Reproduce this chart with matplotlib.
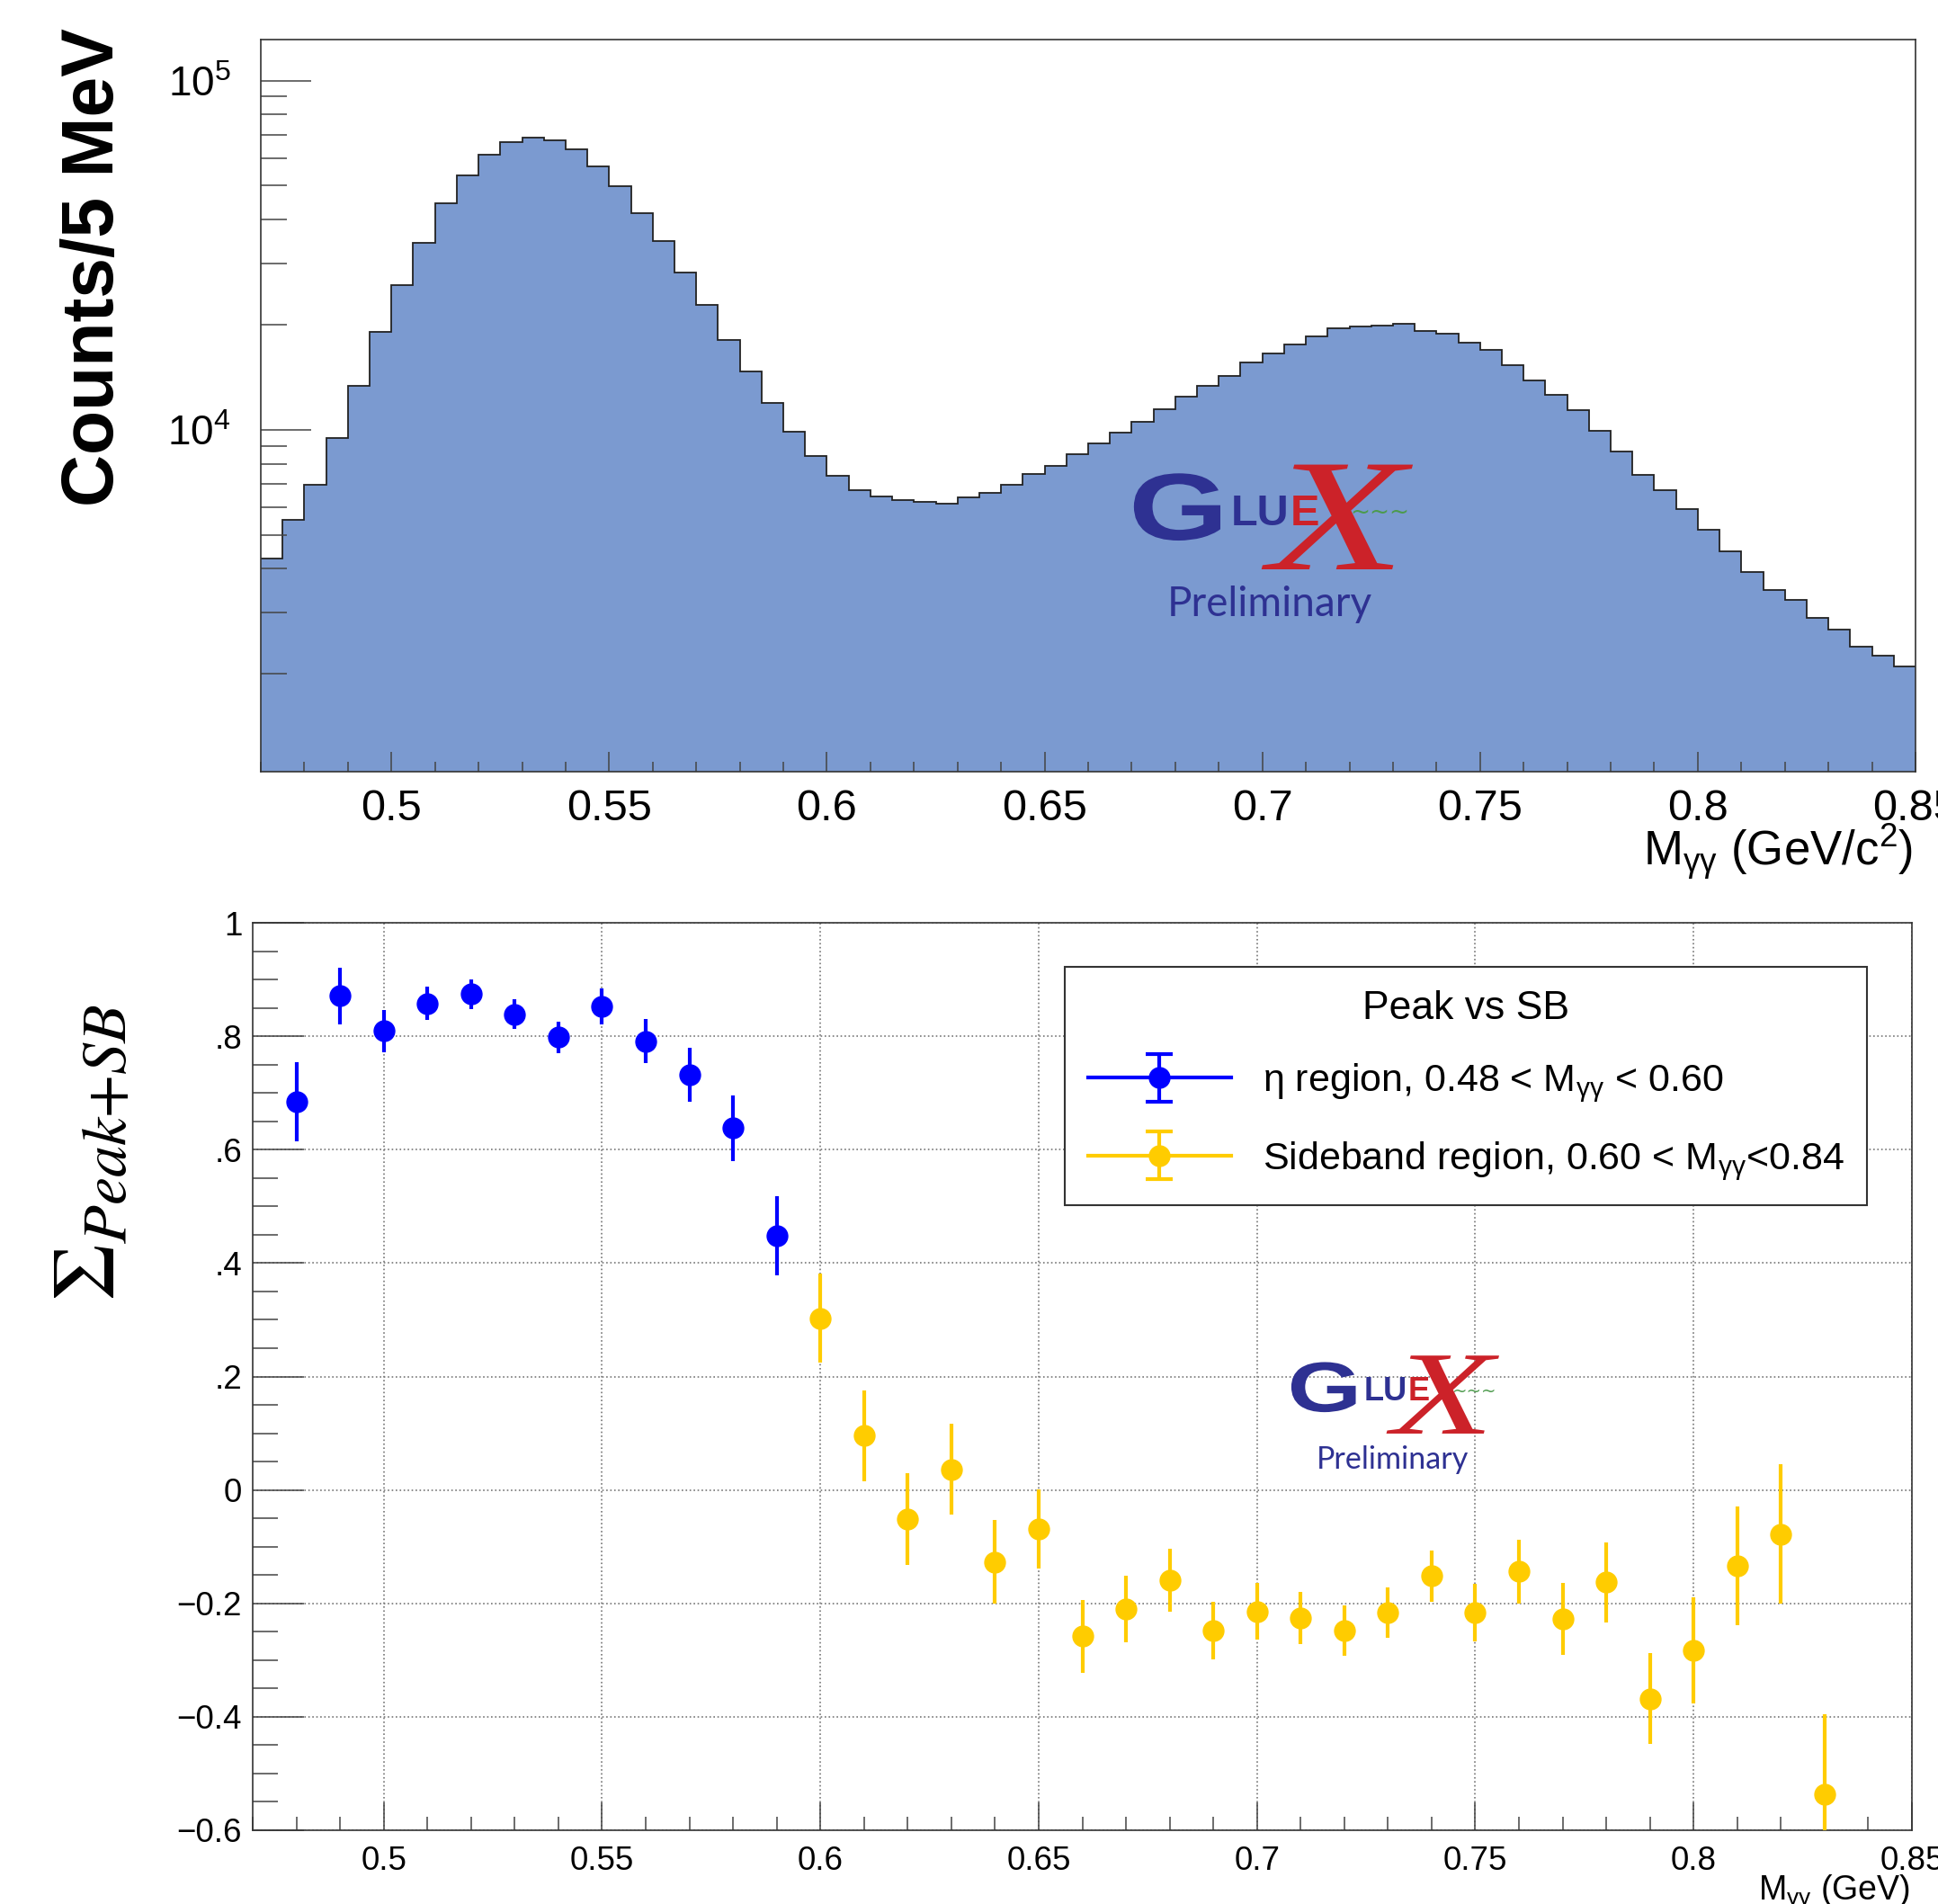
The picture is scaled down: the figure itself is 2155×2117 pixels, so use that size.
import numpy as np
import matplotlib
matplotlib.use("Agg")
import matplotlib.pyplot as plt
from matplotlib.ticker import MultipleLocator, LogLocator, NullFormatter, FuncFormatter
from matplotlib.patheffects import AbstractPathEffect
from matplotlib.transforms import Affine2D
from matplotlib.legend_handler import HandlerErrorbar
from matplotlib.container import ErrorbarContainer

# top panel: M_gg histogram, 5 MeV bins from 0.47 to 0.85
hist_lo, hist_hi = 0.47, 0.85
hist_counts = [
    4283, 5527, 6941, 9493, 13335, 19060, 25974, 34320, 44600, 53590,
    61420, 66600, 68440, 67520, 63730, 56800, 49740, 41670, 34670, 28280,
    22740, 18110, 14670, 11920, 9888, 8427, 7379, 6712, 6443, 6290,
    6226, 6163, 6390, 6587, 6971, 7463, 7895, 8517, 9150, 9795,
    10560, 11480, 12430, 13400, 14290, 15590, 16500, 17590, 18470, 19490,
    19780, 19930, 20090, 19190, 18830, 17800, 16940, 15360, 13870, 12620,
    11390, 9906, 8644, 7435, 6712, 5927, 5172, 4481, 3926, 3477,
    3251, 2891, 2680, 2393, 2261, 2104,
]

# bottom panel: beam asymmetry per 10 MeV slice
x_eta = [0.48, 0.49, 0.50, 0.51, 0.52, 0.53, 0.54, 0.55, 0.56, 0.57, 0.58, 0.59]
sigma_eta = [0.684, 0.871, 0.809, 0.858, 0.874, 0.839, 0.798, 0.853, 0.791, 0.732, 0.638, 0.448]
err_eta = [0.070, 0.050, 0.037, 0.029, 0.026, 0.026, 0.028, 0.032, 0.039, 0.047, 0.058, 0.070]

x_sb = [0.60, 0.61, 0.62, 0.63, 0.64, 0.65, 0.66, 0.67, 0.68, 0.69, 0.70, 0.71,
        0.72, 0.73, 0.74, 0.75, 0.76, 0.77, 0.78, 0.79, 0.80, 0.81, 0.82, 0.83]
sigma_sb = [0.303, 0.096, -0.051, 0.036, -0.127, -0.069, -0.258, -0.210, -0.159, -0.248, -0.214, -0.225,
            -0.248, -0.216, -0.152, -0.216, -0.144, -0.227, -0.163, -0.368, -0.283, -0.134, -0.078, -0.536]
err_sb = [0.078, 0.080, 0.081, 0.080, 0.074, 0.070, 0.064, 0.059, 0.055, 0.051, 0.050, 0.046,
          0.044, 0.044, 0.045, 0.051, 0.056, 0.063, 0.070, 0.080, 0.093, 0.105, 0.123, 0.140]

y2_ticks = [-0.6, -0.4, -0.2, 0.0, 0.2, 0.4, 0.6, 0.8, 1.0]
y2_tick_labels = ["\u22120.6", "\u22120.4", "\u22120.2", "0", ".2", ".4", ".6", ".8", "1"]

label_eta = r"η region, 0.48 < M$_{\mathregular{γγ}}$ < 0.60"
label_sb = r"Sideband region, 0.60 < M$_{\mathregular{γγ}}$<0.84"

W, H, DPI = 2155, 2117, 100

HIST_FILL = "#7B9AD0"
BLUE = "#0000FF"
YELLOW = "#FFCC00"
LOGO_BLUE = "#2E3192"
LOGO_RED = "#CC2229"
LOGO_GREEN = "#4C9A4C"
FRAME = "#333333"


class Stretch(AbstractPathEffect):
    """scale the glyph outline around the text origin"""

    def __init__(self, sx=1.0, sy=1.0):
        super().__init__()
        self.sx = sx
        self.sy = sy

    def draw_path(self, renderer, gc, tpath, affine, rgbFace=None):
        renderer.draw_path(gc, tpath, Affine2D().scale(self.sx, self.sy) + affine, rgbFace)


def fx(x):
    return x / W


def fy(y):
    return 1 - y / H


def draw_logo(fig, x0, y0, s):
    fig.text(fx(x0 - 6 * s), fy(y0 + 77 * s), "G", fontsize=76 * s, fontweight="bold",
             color=LOGO_BLUE, ha="left", va="baseline", path_effects=[Stretch(1.35, 1.0)], zorder=4)
    fig.text(fx(x0 + 150 * s), fy(y0 + 110 * s), "X", fontsize=128 * s, family="Liberation Serif",
             style="italic", color=LOGO_RED, ha="left", va="baseline",
             path_effects=[Stretch(1.40, 1.0)], zorder=3)
    fig.text(fx(x0 + 108 * s), fy(y0 + 61 * s), "LU", fontsize=35 * s, fontweight="bold",
             color=LOGO_BLUE, ha="left", va="baseline", zorder=4)
    fig.text(fx(x0 + 174 * s), fy(y0 + 61 * s), "E", fontsize=35 * s, fontweight="bold",
             color=LOGO_RED, ha="left", va="baseline", zorder=4)
    fig.text(fx(x0 + 240 * s), fy(y0 + 47 * s), "~~~", fontsize=19 * s, family="DejaVu Sans",
             color=LOGO_GREEN, ha="left", va="center", zorder=4)
    fig.text(fx(x0 + 37 * s), fy(y0 + 162 * s), "Preliminary", fontsize=33 * s, family="Lato",
             color=LOGO_BLUE, ha="left", va="baseline", zorder=4)


def style_axes(ax):
    for sp in ax.spines.values():
        sp.set_color(FRAME)
        sp.set_linewidth(1.2)
    ax.tick_params(which="both", direction="in", top=False, right=False,
                   color="#444444", width=1.1, labelcolor="black")


def main(save_path="out.png"):
    plt.rcParams["font.family"] = ["Liberation Sans", "DejaVu Sans"]
    plt.rcParams["mathtext.fontset"] = "custom"
    plt.rcParams["mathtext.rm"] = "Liberation Sans"
    plt.rcParams["mathtext.sf"] = "Liberation Sans"
    plt.rcParams["mathtext.it"] = "Liberation Sans:italic"
    plt.rcParams["mathtext.bf"] = "Liberation Sans:bold"

    fig = plt.figure(figsize=(W / DPI, H / DPI), dpi=DPI)

    # ---------------- top: invariant mass histogram ----------------
    ax1 = fig.add_axes([fx(290), fy(858), (2130 - 290) / W, (858 - 44) / H])
    edges = np.linspace(hist_lo, hist_hi, len(hist_counts) + 1)
    ax1.stairs(hist_counts, edges, baseline=1.0, fill=True, facecolor=HIST_FILL, edgecolor="none")
    ax1.stairs(hist_counts, edges, baseline=None, color="#222222", linewidth=1.3)
    ax1.set_yscale("log")
    ax1.set_xlim(hist_lo, hist_hi)
    ax1.set_ylim(1.05e3, 1.31e5)
    style_axes(ax1)
    ax1.xaxis.set_major_locator(MultipleLocator(0.05))
    ax1.xaxis.set_minor_locator(MultipleLocator(0.01))
    ax1.xaxis.set_major_formatter(FuncFormatter(lambda v, p: f"{v:g}"))
    ax1.yaxis.set_major_locator(LogLocator(base=10))
    ax1.yaxis.set_minor_locator(LogLocator(base=10, subs=np.arange(2, 10)))
    ax1.yaxis.set_minor_formatter(NullFormatter())
    ax1.tick_params(axis="x", which="major", length=16, labelsize=35, pad=14)
    ax1.tick_params(axis="x", which="minor", length=8)
    ax1.tick_params(axis="y", which="major", length=40, labelsize=33, pad=24)
    ax1.tick_params(axis="y", which="minor", length=21)

    fig.text(fx(2127), fy(962), r"M$_{\mathregular{γγ}}$ (GeV/c$^{\mathregular{2}}$)",
             fontsize=38, ha="right", va="baseline")
    fig.text(fx(105), fy(297), "Counts/5 MeV", rotation=90, fontsize=58, fontweight="bold",
             ha="center", va="center")

    # ---------------- bottom: Sigma vs M_gg ----------------
    ax2 = fig.add_axes([fx(281), fy(2035), (2126 - 281) / W, (2035 - 1026) / H])
    ax2.errorbar(x_eta, sigma_eta, yerr=err_eta, fmt="o", color=BLUE, ms=16.5,
                 elinewidth=3, capsize=0, zorder=3)
    ax2.errorbar(x_sb, sigma_sb, yerr=err_sb, fmt="o", color=YELLOW, ms=16.5,
                 elinewidth=3, capsize=0, zorder=3)
    ax2.set_xlim(hist_lo, hist_hi)
    ax2.set_ylim(-0.6, 1.0)
    style_axes(ax2)
    ax2.xaxis.set_major_locator(MultipleLocator(0.05))
    ax2.xaxis.set_minor_locator(MultipleLocator(0.01))
    ax2.xaxis.set_major_formatter(FuncFormatter(lambda v, p: f"{v:g}"))
    ax2.set_yticks(y2_ticks, y2_tick_labels)
    ax2.yaxis.set_minor_locator(MultipleLocator(0.05))
    ax2.tick_params(axis="x", which="major", length=22, labelsize=26.5, pad=12)
    ax2.tick_params(axis="x", which="minor", length=11)
    ax2.tick_params(axis="y", which="major", length=41, labelsize=26.5, pad=8.5)
    ax2.tick_params(axis="y", which="minor", length=20)
    ax2.grid(True, which="major", linestyle=":", color="#777777", linewidth=1.2)
    ax2.set_axisbelow(True)

    # legend proxies with caps, like the ROOT "lep" entries
    h_eta = ax2.errorbar([np.nan], [np.nan], yerr=[np.nan], fmt="o-", color=BLUE, ms=16.5,
                         lw=3, elinewidth=3, capsize=11, capthick=3)
    h_sb = ax2.errorbar([np.nan], [np.nan], yerr=[np.nan], fmt="o-", color=YELLOW, ms=16.5,
                        lw=3, elinewidth=3, capsize=11, capthick=3)
    leg = ax2.legend([h_eta, h_sb], [label_eta, label_sb], title="Peak vs SB",
                     loc="upper left", bbox_to_anchor=((1184 - 281) / 1845, (2035 - 1075) / 1009),
                     fontsize=31, title_fontsize=32, frameon=True, fancybox=False,
                     framealpha=1, edgecolor=FRAME, borderpad=0.6, labelspacing=0.9,
                     handlelength=3.7, handletextpad=0.8, borderaxespad=0.0, numpoints=1,
                     handler_map={ErrorbarContainer: HandlerErrorbar(yerr_size=0.62)})
    leg.get_frame().set_linewidth(1.5)

    fig.text(fx(2124), fy(2112), r"M$_{\mathregular{γγ}}$ (GeV)", fontsize=27,
             ha="right", va="baseline")
    fig.text(fx(102), fy(1281), r"$\Sigma_{Peak{+}SB}$", rotation=90, fontsize=72,
             math_fontfamily="stix", ha="center", va="center")

    draw_logo(fig, 1261, 523, 1.0)
    draw_logo(fig, 1436, 1512, 0.745)

    fig.savefig(save_path, dpi=DPI)
    plt.close(fig)


if __name__ == "__main__":
    main()
